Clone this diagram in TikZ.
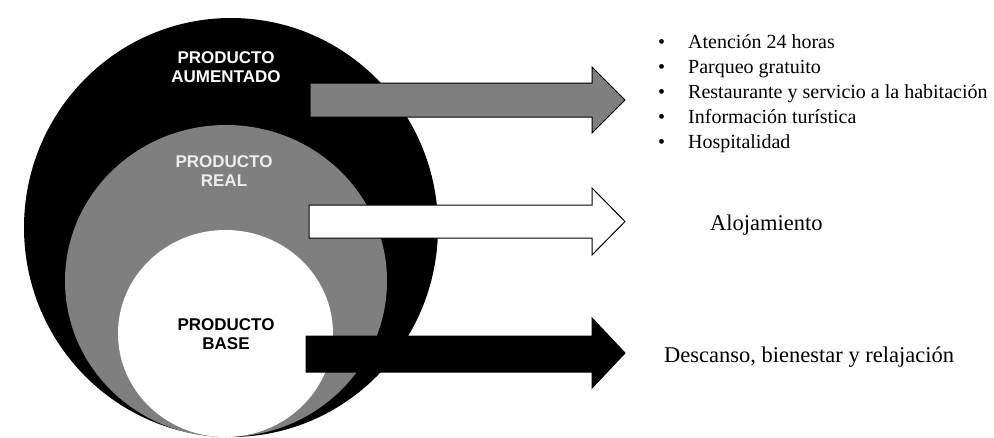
\documentclass[tikz,border=0pt]{standalone}
\usepackage{fontspec}
\setmainfont{Liberation Serif}
\newfontfamily\labelfont{Liberation Sans}
\definecolor{midgray}{HTML}{7F7F7F}
\definecolor{palegray}{HTML}{EDEDED}
\begin{document}
\begin{tikzpicture}[x=1pt,y=-1pt,
  ringlabel/.style={font=\labelfont\bfseries\fontsize{17}{19}\selectfont,align=center,inner sep=0pt},
  blockarrow/.style={draw=black,line width=1pt,line join=miter},
  listitem/.style={anchor=base west,inner sep=0pt,font=\fontsize{20}{23}\selectfont},
  bigtext/.style={anchor=base west,inner sep=0pt,font=\fontsize{22.5}{26}\selectfont}]
\useasboundingbox (0,0) rectangle (994,437);
% concentric rings
\fill[black] (231,227.5) ellipse [x radius=207, y radius=209.5];
\fill[midgray] (226,281) ellipse [x radius=161, y radius=156];
\fill[white] (225.5,333.5) ellipse [x radius=107.5, y radius=103.5];
% ring labels
\node[ringlabel,text=white] (aum) at (226,67) {PRODUCTO\\AUMENTADO};
\node[ringlabel,text=palegray] (real) at (224,171) {PRODUCTO\\REAL};
\node[ringlabel,text=black] (base) at (226,334) {PRODUCTO\\BASE};
% block arrows
\filldraw[blockarrow,fill=midgray] (310,83) -- (592,83) -- (592,67) -- (625,100) -- (592,133) -- (592,117) -- (310,117) -- cycle;
\filldraw[blockarrow,fill=white] (309,205) -- (592,205) -- (592,188) -- (625,221.5) -- (592,255) -- (592,238) -- (309,238) -- cycle;
\filldraw[blockarrow,fill=black] (306,336) -- (592,336) -- (592,318) -- (625,353) -- (592,388) -- (592,372) -- (306,372) -- cycle;
% texts
\node[listitem] (b1) at (658,48) {\textbullet};
\node[listitem] (l1) at (688,48) {Atención 24 horas};
\node[listitem] (b2) at (658,73) {\textbullet};
\node[listitem] (l2) at (688,73) {Parqueo gratuito};
\node[listitem] (b3) at (658,98) {\textbullet};
\node[listitem] (l3) at (688,98) {Restaurante y servicio a la habitación};
\node[listitem] (b4) at (658,123) {\textbullet};
\node[listitem] (l4) at (688,123) {Información turística};
\node[listitem] (b5) at (658,148) {\textbullet};
\node[listitem] (l5) at (688,148) {Hospitalidad};
\node[bigtext] (aloj) at (710,230) {Alojamiento};
\node[bigtext] (desc) at (664,362) {Descanso, bienestar y relajación};
\end{tikzpicture}
\end{document}
